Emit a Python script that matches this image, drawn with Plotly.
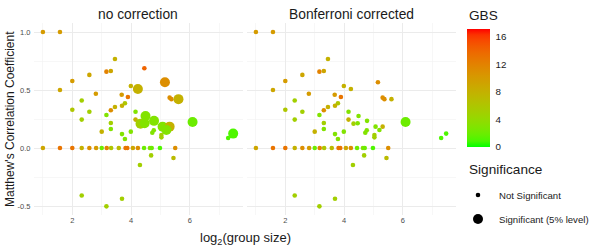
import numpy as np
import plotly.graph_objects as go

# ---------------- data ----------------
# log2(group size)
x_vals = [3.45, 3.16, 3.31, 2.58, 5.15, 3.99, 4.23, 2.80, 3.68, 5.31,
          5.37, 5.61, 3.89, 3.79, 3.69, 3.45, 3.31, 2.58, 4.15, 3.16,
          4.49, 4.15, 4.78, 6.09, 3.31, 4.32, 4.46, 5.07, 5.31, 5.20,
          3.00, 3.31, 3.99, 4.72, 4.77, 3.69, 5.03, 5.03, 3.79, 7.47,
          7.30, 2.00, 1.58, 2.32, 2.00, 2.32, 1.00, 1.58, 4.45, 2.32,
          3.16, 3.69, 4.30, 4.68, 5.44,
          1.00, 1.58, 2.00, 2.32, 2.58, 2.81, 3.00, 3.17, 3.32, 3.58,
          3.81, 3.87, 4.06, 4.23, 4.44, 4.64, 4.70, 4.98, 5.50]
# Matthew's correlation coefficient
mcc_vals = [0.767, 0.658, 0.664, 0.630, 0.567, 0.534, 0.508, 0.468, 0.459, 0.434,
            0.421, 0.421, 0.440, 0.386, 0.364, 0.353, 0.325, 0.313, 0.313, 0.284,
            0.276, 0.245, 0.234, 0.224, 0.216, 0.210, 0.213, 0.184, 0.184, 0.155,
            0.141, 0.164, 0.141, 0.132, 0.153, 0.120, 0.112, 0.092, 0.077, 0.124,
            0.086, 0.578, 0.500, 0.410, 0.330, 0.245, 1.000, 1.000, 0.688, -0.410,
            -0.503, -0.437, -0.147, -0.064, -0.086,
            0.0, 0.0, 0.0, 0.0, 0.0, 0.0, 0.0, 0.0, 0.0, 0.0,
            0.0, 0.0, 0.0, 0.0, 0.0, 0.0, 0.0, 0.0, 0.0]
# GBS (colour)
gbs_vals = [8, 12, 9, 9, 11, 8, 8, 10, 10, 11,
            11, 8, 13, 6, 8, 8, 11, 5, 3, 3,
            3, 8, 3, 2, 5, 5, 3, 3, 8, 3,
            8, 3, 3, 3, 3, 3, 5, 5, 3, 1,
            1, 10, 9, 5, 6, 5, 10, 10, 14, 5,
            5, 5, 5, 5, 7,
            9, 13, 13, 8, 11, 10, 2, 12, 6, 7,
            13, 13, 9, 11, 2, 3, 2, 1, 11]
# significance (1 = significant at 5% level)
sig_no_correction = [0, 0, 0, 0, 1, 0, 1, 0, 0, 0,
                     0, 1, 0, 0, 0, 0, 0, 0, 0, 0,
                     1, 0, 1, 1, 0, 1, 1, 1, 1, 1,
                     0, 0, 0, 0, 0, 0, 0, 0, 0, 1,
                     0, 0, 0, 0, 0, 0, 0, 0, 0, 0,
                     0, 0, 0, 0, 0,
                     0, 0, 0, 0, 0, 0, 0, 0, 0, 0,
                     0, 0, 0, 0, 0, 0, 0, 0, 0]
sig_bonferroni = [1 if i == 23 else 0 for i in range(len(x_vals))]
in_bonferroni_panel = [0 if i == 48 else 1 for i in range(len(x_vals))]

panel_titles = ["no correction", "Bonferroni corrected"]
gbs_ticks = [0, 4, 8, 12, 16]
x_ticks = [2, 4, 6]
y_ticks = [-0.5, 0.0, 0.5, 1.0]
y_tick_text = ["-0.5", "0.0", "0.5", "1.0"]
sig_labels = ["Not Significant", "Significant (5% level)"]


# ---------------- colour scale: green -> red interpolated in CIELAB ----------------
def _to_lin(c):
    c = np.asarray(c, float) / 255.0
    return np.where(c <= 0.04045, c / 12.92, ((c + 0.055) / 1.055) ** 2.4)


def _from_lin(c):
    c = np.clip(c, 0, 1)
    v = np.where(c <= 0.0031308, 12.92 * c, 1.055 * c ** (1 / 2.4) - 0.055)
    return np.clip(np.round(v * 255), 0, 255).astype(int)


M = np.array([[0.4124564, 0.3575761, 0.1804375],
              [0.2126729, 0.7151522, 0.0721750],
              [0.0193339, 0.1191920, 0.9503041]])
Minv = np.linalg.inv(M)
WHITE = np.array([0.95047, 1.0, 1.08883])


def rgb_to_lab(rgb):
    xyz = M @ _to_lin(rgb) / WHITE
    f = np.where(xyz > 216 / 24389, np.cbrt(xyz), (24389 / 27 * xyz + 16) / 116)
    return np.array([116 * f[1] - 16, 500 * (f[0] - f[1]), 200 * (f[1] - f[2])])


def lab_to_rgb(lab):
    L, a, b = lab
    fy = (L + 16) / 116
    fx = fy + a / 500
    fz = fy - b / 200
    f = np.array([fx, fy, fz])
    xyz = np.where(f ** 3 > 216 / 24389, f ** 3, (116 * f - 16) / (24389 / 27)) * WHITE
    return _from_lin(Minv @ xyz)


lab_lo = rgb_to_lab([0, 255, 0])
lab_hi = rgb_to_lab([255, 0, 0])
colorscale = []
for t in np.linspace(0, 1, 21):
    r, g, b = lab_to_rgb(lab_lo + (lab_hi - lab_lo) * t)
    colorscale.append([float(t), f"rgb({r},{g},{b})"])

# ---------------- figure ----------------
W, H = 600, 250
FONT = "Liberation Sans, Arial, sans-serif"
TXT = "#1A1A1A"
GRID = "#EBEBEB"

left_px = [33.5, 246.5]
panel_w = 209.5
top_px, bot_px = 23.3, 214.7

fig = go.Figure()

sig_sets = [sig_no_correction, sig_bonferroni]
for p in range(2):
    xa = "x" if p == 0 else "x2"
    ya = "y" if p == 0 else "y2"
    for big in (0, 1):
        idx = [i for i in range(len(x_vals))
               if sig_sets[p][i] == big and (p == 0 or in_bonferroni_panel[i])]
        fig.add_trace(go.Scatter(
            x=[x_vals[i] for i in idx],
            y=[mcc_vals[i] for i in idx],
            mode="markers",
            xaxis=xa, yaxis=ya,
            marker=dict(size=10 if big else 4.6,
                        color=[gbs_vals[i] for i in idx],
                        coloraxis="coloraxis",
                        line=dict(width=0), opacity=1),
            showlegend=False, hoverinfo="skip",
        ))

axis_common = dict(showline=False, zeroline=False, ticks="", gridcolor=GRID, gridwidth=1)

for p in range(2):
    d0 = left_px[p] / W
    d1 = (left_px[p] + panel_w) / W
    key = "xaxis" if p == 0 else "xaxis2"
    fig.layout[key] = dict(
        domain=[d0, d1], range=[0.68, 7.805], anchor="y" if p == 0 else "y2",
        tickvals=x_ticks, ticktext=[str(v) for v in x_ticks],
        tickfont=dict(size=7.5, color="#4D4D4D", family=FONT),
        minor=dict(dtick=1, tick0=0, showgrid=True, gridcolor="#F1F1F1", gridwidth=0.6),
        automargin=False,
        **axis_common)
    ykey = "yaxis" if p == 0 else "yaxis2"
    fig.layout[ykey] = dict(
        domain=[(H - bot_px) / H, (H - top_px) / H], range=[-0.575, 1.075],
        anchor="x" if p == 0 else "x2",
        tickvals=y_ticks, ticktext=y_tick_text, showticklabels=(p == 0),
        tickfont=dict(size=7.5, color="#4D4D4D", family=FONT),
        ticklabelstandoff=2,
        minor=dict(dtick=0.25, tick0=0, showgrid=True, gridcolor="#F1F1F1", gridwidth=0.6),
        automargin=False,
        **axis_common)

annotations = []
for p in range(2):
    annotations.append(dict(
        text=panel_titles[p], x=(left_px[p] + panel_w / 2) / W, y=(H - 14) / H,
        xref="paper", yref="paper", showarrow=False, xanchor="center", yanchor="middle",
        font=dict(size=13.8, color=TXT, family=FONT)))
annotations.append(dict(
    text="Matthew's Correlation Coefficient", x=10 / W, y=(H - 119) / H,
    xref="paper", yref="paper", showarrow=False, textangle=-90,
    xanchor="center", yanchor="middle", font=dict(size=12, color=TXT, family=FONT)))
annotations.append(dict(
    text="log<sub>2</sub>(group size)", x=245 / W, y=(H - 238) / H,
    xref="paper", yref="paper", showarrow=False, xanchor="center", yanchor="middle",
    font=dict(size=13, color=TXT, family=FONT)))
annotations.append(dict(
    text="GBS", x=466.5 / W, y=(H - 15) / H, xref="paper", yref="paper",
    showarrow=False, xanchor="left", yanchor="middle",
    font=dict(size=13.6, color=TXT, family=FONT)))
annotations.append(dict(
    text="Significance", x=466.5 / W, y=(H - 170) / H, xref="paper", yref="paper",
    showarrow=False, xanchor="left", yanchor="middle",
    font=dict(size=13.6, color=TXT, family=FONT)))
legend_rows = [195, 219]
for k in range(2):
    annotations.append(dict(
        text=sig_labels[k], x=497 / W, y=(H - legend_rows[k]) / H, xref="paper", yref="paper",
        showarrow=False, xanchor="left", yanchor="middle",
        font=dict(size=9.6, color=TXT, family=FONT)))

shapes = []
for k, r in enumerate([2.3, 5.0]):
    cx, cy = 478, legend_rows[k]
    shapes.append(dict(type="circle", xref="paper", yref="paper",
                       x0=(cx - r) / W, x1=(cx + r) / W,
                       y0=(H - cy - r) / H, y1=(H - cy + r) / H,
                       fillcolor="black", line=dict(width=0)))

fig.update_layout(
    width=W, height=H,
    margin=dict(l=0, r=0, t=0, b=0, autoexpand=False),
    paper_bgcolor="white", plot_bgcolor="white",
    font=dict(family=FONT, color=TXT),
    annotations=annotations, shapes=shapes,
    coloraxis=dict(
        colorscale=colorscale, cmin=0, cmax=17.1,
        colorbar=dict(
            x=466.5 / W, xanchor="left", xpad=0,
            y=(H - 29) / H, yanchor="top", ypad=0,
            len=118, lenmode="pixels", thickness=23, thicknessmode="pixels",
            outlinewidth=0, ticks="outside", ticklen=4, tickcolor="rgba(0,0,0,0)", tickwidth=1,
            tickvals=gbs_ticks, ticktext=[str(v) for v in gbs_ticks],
            tickfont=dict(size=9.8, color=TXT, family=FONT),
        ),
    ),
    showlegend=False,
)

fig.write_html(
    "out.html",
    config={"displayModeBar": False, "staticPlot": True},
    post_script="document.body.style.margin='0px';document.body.style.padding='0px';",
)
